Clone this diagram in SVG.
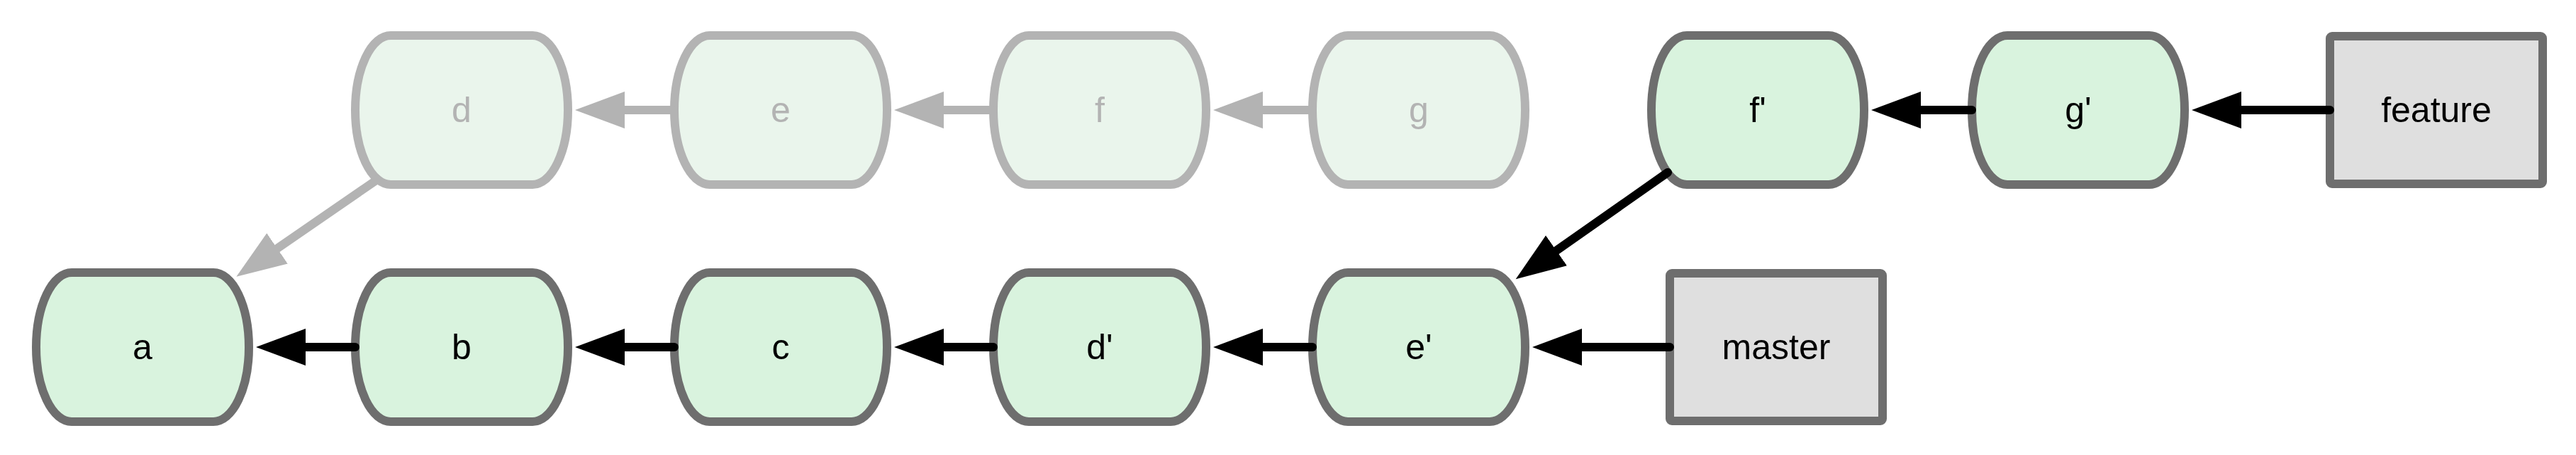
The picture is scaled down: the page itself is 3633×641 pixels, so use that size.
<svg xmlns="http://www.w3.org/2000/svg" width="3633" height="641" viewBox="0 0 3633 641">
<style>
.n path{stroke-width:12}
.on path{fill:#d9f3de;stroke:#6e6e6e}
.off path{fill:#eaf5ec;stroke:#b3b3b3}
.ref rect{fill:#dfdfdf;stroke:#6e6e6e;stroke-width:12}
text{font-family:"Liberation Sans",Arial,sans-serif;font-size:50px;text-anchor:middle}
.on text,.ref text{fill:#000}
.off text{fill:#b3b3b3}
.c{fill:none;stroke-width:12;stroke-linecap:round}
.k{stroke:#000}
.g{stroke:#b3b3b3}
</style>
<defs>
<marker id="ak" markerUnits="userSpaceOnUse" markerWidth="72" markerHeight="54" refX="0" refY="26" orient="auto" viewBox="0 0 72 54"><path d="M0,0 L70,26 L0,52 Z" fill="#000"/></marker>
<marker id="ag" markerUnits="userSpaceOnUse" markerWidth="72" markerHeight="54" refX="0" refY="26" orient="auto" viewBox="0 0 72 54"><path d="M0,0 L70,26 L0,52 Z" fill="#b3b3b3"/></marker>
</defs>
<g id="node-d" class="n off"><path d="M551,50 H751 A50,105 0 0 1 751,260 H551 A50,105 0 0 1 551,50 Z"/><text x="651" y="172">d</text></g>
<g id="node-e" class="n off"><path d="M1001,50 H1201 A50,105 0 0 1 1201,260 H1001 A50,105 0 0 1 1001,50 Z"/><text x="1101" y="172">e</text></g>
<g id="node-f" class="n off"><path d="M1451,50 H1651 A50,105 0 0 1 1651,260 H1451 A50,105 0 0 1 1451,50 Z"/><text x="1551" y="172">f</text></g>
<g id="node-g" class="n off"><path d="M1901,50 H2101 A50,105 0 0 1 2101,260 H1901 A50,105 0 0 1 1901,50 Z"/><text x="2001" y="172">g</text></g>
<g id="node-f2" class="n on"><path d="M2379,50 H2579 A50,105 0 0 1 2579,260 H2379 A50,105 0 0 1 2379,50 Z"/><text x="2479" y="172">f'</text></g>
<g id="node-g2" class="n on"><path d="M2831,50 H3031 A50,105 0 0 1 3031,260 H2831 A50,105 0 0 1 2831,50 Z"/><text x="2931" y="172">g'</text></g>
<g id="node-feature" class="ref"><rect x="3286" y="51" width="300" height="208" rx="3"/><text x="3436" y="172">feature</text></g>
<g id="node-a" class="n on"><path d="M101,384 H301 A50,105 0 0 1 301,594 H101 A50,105 0 0 1 101,384 Z"/><text x="201" y="506">a</text></g>
<g id="node-b" class="n on"><path d="M551,384 H751 A50,105 0 0 1 751,594 H551 A50,105 0 0 1 551,384 Z"/><text x="651" y="506">b</text></g>
<g id="node-c" class="n on"><path d="M1001,384 H1201 A50,105 0 0 1 1201,594 H1001 A50,105 0 0 1 1001,384 Z"/><text x="1101" y="506">c</text></g>
<g id="node-d2" class="n on"><path d="M1451,384 H1651 A50,105 0 0 1 1651,594 H1451 A50,105 0 0 1 1451,384 Z"/><text x="1551" y="506">d'</text></g>
<g id="node-e2" class="n on"><path d="M1901,384 H2101 A50,105 0 0 1 2101,594 H1901 A50,105 0 0 1 1901,384 Z"/><text x="2001" y="506">e'</text></g>
<g id="node-master" class="ref"><rect x="2355" y="385" width="300" height="208" rx="3"/><text x="2505" y="506">master</text></g>
<g id="connectors">
<path class="c g" d="M951,155 H881" marker-end="url(#ag)"/>
<path class="c g" d="M1401,155 H1331" marker-end="url(#ag)"/>
<path class="c g" d="M1851,155 H1781" marker-end="url(#ag)"/>
<path class="c g" d="M532,253 L391,350" marker-end="url(#ag)"/>
<path class="c k" d="M2781,155 H2709" marker-end="url(#ak)"/>
<path class="c k" d="M3286,155 H3161" marker-end="url(#ak)"/>
<path class="c k" d="M2352,243 L2195,353" marker-end="url(#ak)"/>
<path class="c k" d="M501,489 H431" marker-end="url(#ak)"/>
<path class="c k" d="M951,489 H881" marker-end="url(#ak)"/>
<path class="c k" d="M1401,489 H1331" marker-end="url(#ak)"/>
<path class="c k" d="M1851,489 H1781" marker-end="url(#ak)"/>
<path class="c k" d="M2355,489 H2231" marker-end="url(#ak)"/>
</g>
</svg>
